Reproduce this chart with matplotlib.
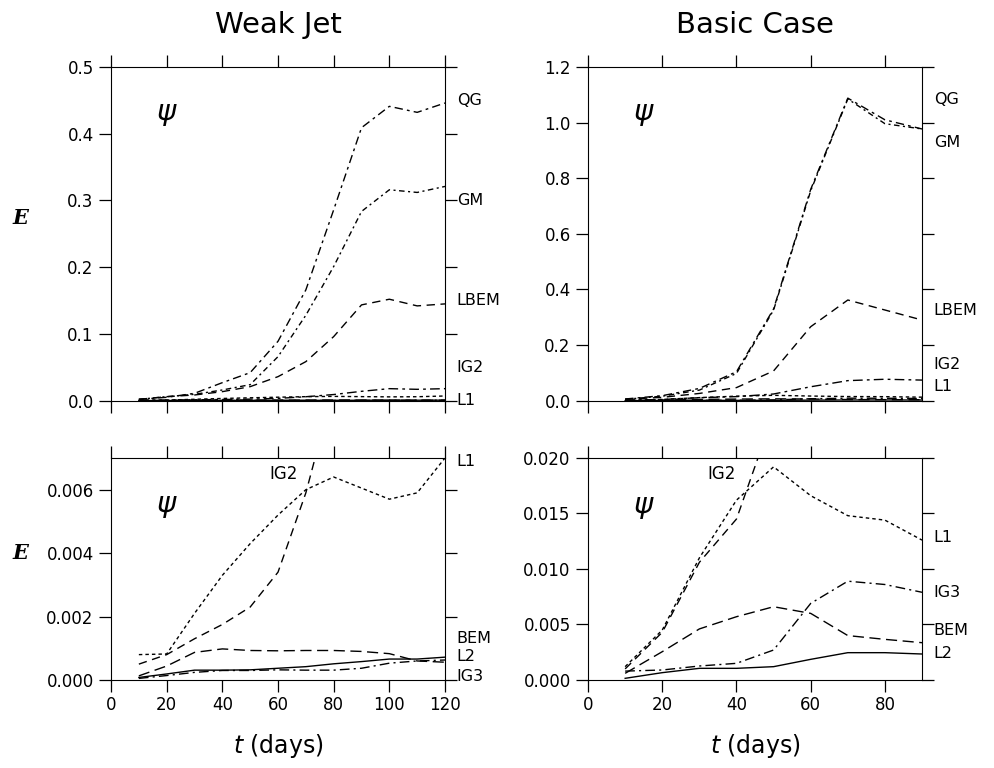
import matplotlib
matplotlib.use('Agg')
import matplotlib.pyplot as plt
from matplotlib import font_manager as fm
from matplotlib.ticker import MultipleLocator, FormatStrFormatter

# ---------------- data ----------------
days_weak = [10, 20, 30, 40, 50, 60, 70, 80, 90, 100, 110, 120]
days_basic = [10, 20, 30, 40, 50, 60, 70, 80, 90]

weak_QG = [0.002, 0.005, 0.011, 0.027, 0.042, 0.089, 0.166, 0.286, 0.409, 0.441, 0.432, 0.446]
weak_GM = [0.002, 0.006, 0.0095, 0.016, 0.024, 0.066, 0.128, 0.201, 0.2835, 0.316, 0.312, 0.321]
weak_LBEM = [0.002, 0.006, 0.0085, 0.0135, 0.021, 0.036, 0.0585, 0.096, 0.1435, 0.152, 0.142, 0.145]
weak_IG2 = [0.0005, 0.0008, 0.0013, 0.00175, 0.0023, 0.0034, 0.0059, 0.0092, 0.014, 0.018, 0.017, 0.018]
weak_L1 = [0.0008, 0.00082, 0.0021, 0.0033, 0.0043, 0.0052, 0.0060, 0.0064, 0.00605, 0.0057, 0.0059, 0.0070]
weak_BEM = [0.00013, 0.00044, 0.00087, 0.00098, 0.00093, 0.00092, 0.00093, 0.00093, 0.0009, 0.00083, 0.0006, 0.00056]
weak_L2 = [0.00008, 0.00019, 0.00031, 0.00031, 0.00032, 0.00037, 0.00042, 0.00051, 0.00058, 0.00066, 0.00066, 0.00072]
weak_IG3 = [0.00005, 0.00014, 0.00024, 0.0003, 0.0003, 0.00032, 0.00031, 0.00031, 0.00037, 0.00053, 0.0006, 0.00063]

basic_QG = [0.006, 0.018, 0.044, 0.104, 0.33, 0.76, 1.088, 1.01, 0.977]
basic_GM = [0.005, 0.016, 0.038, 0.098, 0.326, 0.755, 1.085, 0.996, 0.977]
basic_LBEM = [0.005, 0.012, 0.026, 0.047, 0.107, 0.266, 0.362, 0.326, 0.29]
basic_IG2 = [0.0010, 0.0043, 0.0106, 0.0145, 0.024, 0.05, 0.072, 0.077, 0.074]
basic_L1 = [0.0012, 0.0045, 0.011, 0.0162, 0.0192, 0.0166, 0.0148, 0.0144, 0.0126]
basic_BEM = [0.0006, 0.00255, 0.0046, 0.0057, 0.0066, 0.006, 0.004, 0.00366, 0.00336]
basic_L2 = [0.00015, 0.00066, 0.00105, 0.00105, 0.0012, 0.00186, 0.00246, 0.00246, 0.00234]
basic_IG3 = [0.0008, 0.0009, 0.00126, 0.0015, 0.0027, 0.0069, 0.0089, 0.0086, 0.0079]

titles = ["Weak Jet", "Basic Case"]

# ---------------- styles ----------------
names = {f.name for f in fm.fontManager.ttflist}
narrow = 'Liberation Sans Narrow' if 'Liberation Sans Narrow' in names else 'DejaVu Sans'

LW = 1.0
ST = {
    'QG': (0, (6, 3, 2, 3)),
    'GM': (0, (4, 2.5, 1.5, 2.5)),
    'LBEM': (0, (6, 4)),
    'IG2top': (0, (7, 3, 2, 3)),
    'IG2': (0, (6, 4)),
    'L1': (0, (2.5, 2.2)),
    'BEM': (0, (8, 4)),
    'L2': '-',
    'IG3': (0, (7, 3, 1.5, 3)),
}

fig = plt.figure(figsize=(9.94, 7.68), dpi=100)
W, HT, HB = 0.3360, 0.4345, 0.2891
ax_tl = fig.add_axes([0.1117, 0.4783, W, HT])
ax_tr = fig.add_axes([0.5916, 0.4783, W, HT])
ax_bl = fig.add_axes([0.1117, 0.1146, W, HB])
ax_br = fig.add_axes([0.5916, 0.1146, W, HB])


def style(ax, xmax, ymax, ystep, fmt, xlabels):
    ax.set_xlim(0, xmax)
    ax.set_ylim(0, ymax)
    ax.xaxis.set_major_locator(MultipleLocator(20))
    ax.yaxis.set_major_locator(MultipleLocator(ystep))
    ax.yaxis.set_major_formatter(FormatStrFormatter(fmt))
    ax.tick_params(direction='out', length=8.5, width=0.9, top=True, right=True,
                   labeltop=False, labelright=False, labelleft=True,
                   labelbottom=xlabels)
    ax.tick_params(axis='y', labelsize=12, pad=4)
    ax.tick_params(axis='x', labelsize=12, pad=3)
    for lab in ax.get_xticklabels():
        lab.set_family(narrow)
    for s in ax.spines.values():
        s.set_linewidth(0.8)


def rlabel(ax, y, txt):
    ax.text(1.035, y, txt, transform=ax.get_yaxis_transform(), fontsize=11.5,
            family=narrow, va='center', ha='left')


def psi(ax, x, y):
    ax.text(x, y, r'$\psi$', fontsize=21, ha='center', va='center')


# Top-left
ax = ax_tl
ax.plot(days_weak, weak_QG, color='k', lw=LW, ls=ST['QG'])
ax.plot(days_weak, weak_GM, color='k', lw=LW, ls=ST['GM'])
ax.plot(days_weak, weak_LBEM, color='k', lw=LW, ls=ST['LBEM'])
ax.plot(days_weak, weak_IG2, color='k', lw=LW, ls=ST['IG2top'])
ax.plot(days_weak, weak_L1, color='k', lw=LW, ls=ST['L1'])
ax.plot(days_weak, weak_BEM, color='k', lw=LW, ls=ST['BEM'])
ax.plot(days_weak, weak_L2, color='k', lw=LW, ls=ST['L2'])
ax.plot(days_weak, weak_IG3, color='k', lw=LW, ls=ST['IG3'])
style(ax, 120, 0.5, 0.1, '%.1f', False)
for y, t in [(0.45, 'QG'), (0.30, 'GM'), (0.15, 'LBEM'), (0.05, 'IG2'), (0.0, 'L1')]:
    rlabel(ax, y, t)
psi(ax, 20, 0.43)

# Top-right
ax = ax_tr
ax.plot(days_basic, basic_QG, color='k', lw=LW, ls=ST['QG'])
ax.plot(days_basic, basic_GM, color='k', lw=LW, ls=ST['GM'])
ax.plot(days_basic, basic_LBEM, color='k', lw=LW, ls=ST['LBEM'])
ax.plot(days_basic, basic_IG2, color='k', lw=LW, ls=ST['IG2top'])
ax.plot(days_basic, basic_L1, color='k', lw=LW, ls=ST['L1'])
ax.plot(days_basic, basic_BEM, color='k', lw=LW, ls=ST['BEM'])
ax.plot(days_basic, basic_L2, color='k', lw=LW, ls=ST['L2'])
ax.plot(days_basic, basic_IG3, color='k', lw=LW, ls=ST['IG3'])
style(ax, 90, 1.2, 0.2, '%.1f', False)
for y, t in [(1.083, 'QG'), (0.928, 'GM'), (0.323, 'LBEM'), (0.129, 'IG2'), (0.05, 'L1')]:
    rlabel(ax, y, t)
psi(ax, 15, 1.03)

# Bottom-left
ax = ax_bl
ax.plot(days_weak, weak_IG2, color='k', lw=LW, ls=ST['IG2'])
ax.plot(days_weak, weak_L1, color='k', lw=LW, ls=ST['L1'])
ax.plot(days_weak, weak_BEM, color='k', lw=LW, ls=ST['BEM'])
ax.plot(days_weak, weak_L2, color='k', lw=LW, ls=ST['L2'])
ax.plot(days_weak, weak_IG3, color='k', lw=LW, ls=ST['IG3'])
style(ax, 120, 0.007, 0.002, '%.3f', True)
for y, t in [(0.0069, 'L1'), (0.00132, 'BEM'), (0.00073, 'L2'), (0.00012, 'IG3')]:
    rlabel(ax, y, t)
ax.text(62, 0.0065, 'IG2', fontsize=12, family=narrow, ha='center', va='center')
psi(ax, 20, 0.0055)

# Bottom-right
ax = ax_br
ax.plot(days_basic, basic_IG2, color='k', lw=LW, ls=ST['IG2'])
ax.plot(days_basic, basic_L1, color='k', lw=LW, ls=ST['L1'])
ax.plot(days_basic, basic_BEM, color='k', lw=LW, ls=ST['BEM'])
ax.plot(days_basic, basic_L2, color='k', lw=LW, ls=ST['L2'])
ax.plot(days_basic, basic_IG3, color='k', lw=LW, ls=ST['IG3'])
style(ax, 90, 0.020, 0.005, '%.3f', True)
for y, t in [(0.0128, 'L1'), (0.0079, 'IG3'), (0.0045, 'BEM'), (0.0024, 'L2')]:
    rlabel(ax, y, t)
ax.text(36, 0.0186, 'IG2', fontsize=12, family=narrow, ha='center', va='center')
psi(ax, 15, 0.0156)

# Titles, axis labels
fig.text(0.2797, 0.967, titles[0], fontsize=21, family=narrow, ha='center', va='center')
fig.text(0.7596, 0.967, titles[1], fontsize=21, family=narrow, ha='center', va='center')
for xc in (0.2797, 0.7596):
    fig.text(xc, 0.028, r'$t$ (days)', fontsize=17, family=narrow, ha='center', va='center')
for yc in (1 - 218 / 768, 1 - 553 / 768):
    fig.text(0.021, yc, 'E', fontsize=15, family='DejaVu Serif', style='italic',
             weight='bold', ha='center', va='center')

fig.savefig('out.png', dpi=100)
